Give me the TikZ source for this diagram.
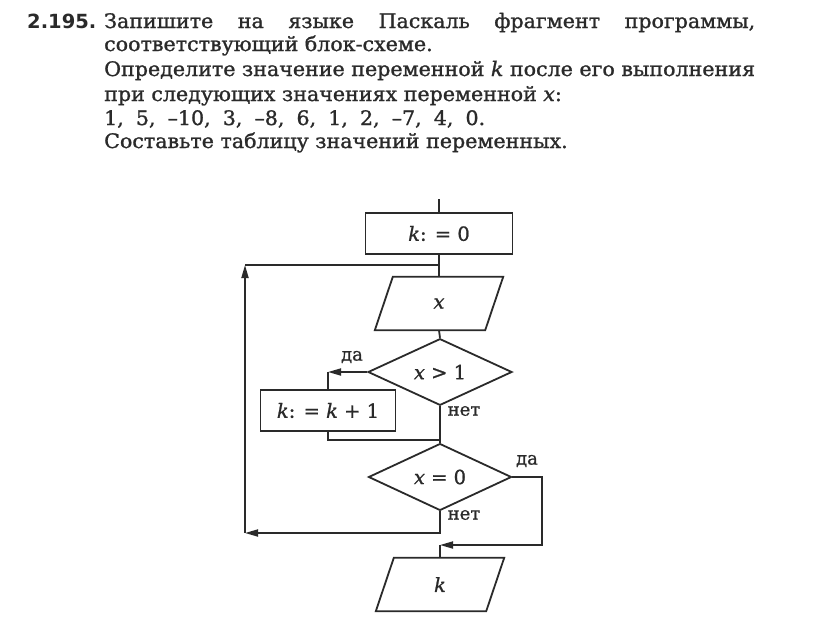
\documentclass[tikz,border=0pt]{standalone}
\usepackage{fontspec}
\setmainfont[FakeStretch=1.03,FakeBold=1.2]{DejaVu Serif}
\newfontfamily\numfont{DejaVu Sans}
\newfontfamily\flowfont[FakeBold=1]{DejaVu Serif}
\usetikzlibrary{shapes.geometric,arrows.meta}
\definecolor{ink}{HTML}{2A2A2A}
\begin{document}
\begin{tikzpicture}[x=1pt,y=-1pt,
  txt/.style={anchor=base west,inner sep=0pt,text=ink,font=\fontsize{20}{22}\selectfont},
  flow/.style={draw=ink,line width=1.8pt},
  procbox/.style={flow,rectangle,inner sep=0pt,text=ink,font=\flowfont\fontsize{19.5}{21}\selectfont},
  iotext/.style={rectangle,inner sep=0pt,minimum width=110pt,minimum height=53pt,text=ink,font=\flowfont\fontsize{19.5}{21}\selectfont},
  decbox/.style={flow,diamond,inner sep=0pt,text=ink,font=\flowfont\fontsize{19.5}{21}\selectfont},
  lbl/.style={inner sep=0pt,text=ink,font=\flowfont\fontsize{18}{20}\selectfont},
  conn/.style={draw=ink,line width=1.8pt},
  arr/.style={conn,-{Triangle[length=13pt,width=7pt]}}]
\useasboundingbox[fill=white] (0,0) rectangle (816,641);

% problem text
\node[txt,font=\numfont\bfseries\fontsize{19.5}{21}\selectfont] (num) at (27,28) {2.195.};
\node[txt] (t1) at (104,28) {\makebox[651pt][s]{Запишите на языке Паскаль фрагмент программы,}};
\node[txt] (t2) at (104,51) {соответствующий блок-схеме.};
\node[txt] (t3) at (104,76) {Определите значение переменной \textit{k} после его выполнения};
\node[txt] (t4) at (104,101) {при следующих значениях переменной \textit{x}:};
\node[txt] (t5) at (104,125) {\makebox[381pt][s]{1, 5, –10, 3, –8, 6, 1, 2, –7, 4, 0.}};
\node[txt] (t6) at (104,148) {Составьте таблицу значений переменных.};

% flowchart nodes
\coordinate (top) at (439,199);
\node[procbox,minimum width=147pt,minimum height=41pt] (k0) at (439,233.5) {\textit{k}: = 0};
\coordinate (J) at (439,265);
\node[iotext] (inx) at (439,303.5) {\textit{x}};
\draw[flow,line join=miter] ([xshift=9pt]inx.north west) -- ([xshift=9pt]inx.north east)
  -- ([xshift=-9pt]inx.south east) -- ([xshift=-9pt]inx.south west) -- cycle;
\node[decbox,minimum width=144pt,minimum height=57pt] (d1) at (440,372) {\textit{x} > 1};
\node[procbox,minimum width=135pt,minimum height=41pt] (inc) at (328,410.5) {\textit{k}: = \textit{k} + 1};
\node[decbox,minimum width=143pt,minimum height=57pt] (d2) at (440,477) {\textit{x} = 0};
\node[iotext] (outk) at (440,584.5) {\textit{k}};
\draw[flow,line join=miter] ([xshift=9pt]outk.north west) -- ([xshift=9pt]outk.north east)
  -- ([xshift=-9pt]outk.south east) -- ([xshift=-9pt]outk.south west) -- cycle;

\coordinate (c3) at (328,372);
\coordinate (m1) at (440,440);
\coordinate (c1) at (245,533);
\coordinate (c2) at (245,265);
\coordinate (c5) at (542,477);
\coordinate (c6) at (440,545);

% connectors
\draw[conn] (top) -- (k0.north);
\draw[conn] (k0.south) -- (inx.north);
\draw[conn] (inx.south) -- (d1.north);
\draw[arr] (d1.west) -- (c3);
\draw[conn] (c3) -- (inc.north);
\draw[conn] (d1.south) -- (d2.north);
\draw[conn] (inc.south) |- (m1);
\draw[arr] (d2.south) |- (c1);
\draw[arr] (c1) -- (c2);
\draw[conn] (c2) -- (J);
\draw[arr] (d2.east) -- (c5) |- (c6);
\draw[conn] (c6) -- (outk.north);

% labels
\node[lbl] (da1) at (352,357) {да};
\node[lbl] (net1) at (464,411) {нет};
\node[lbl] (da2) at (527,461) {да};
\node[lbl] (net2) at (464,515) {нет};
\end{tikzpicture}
\end{document}
